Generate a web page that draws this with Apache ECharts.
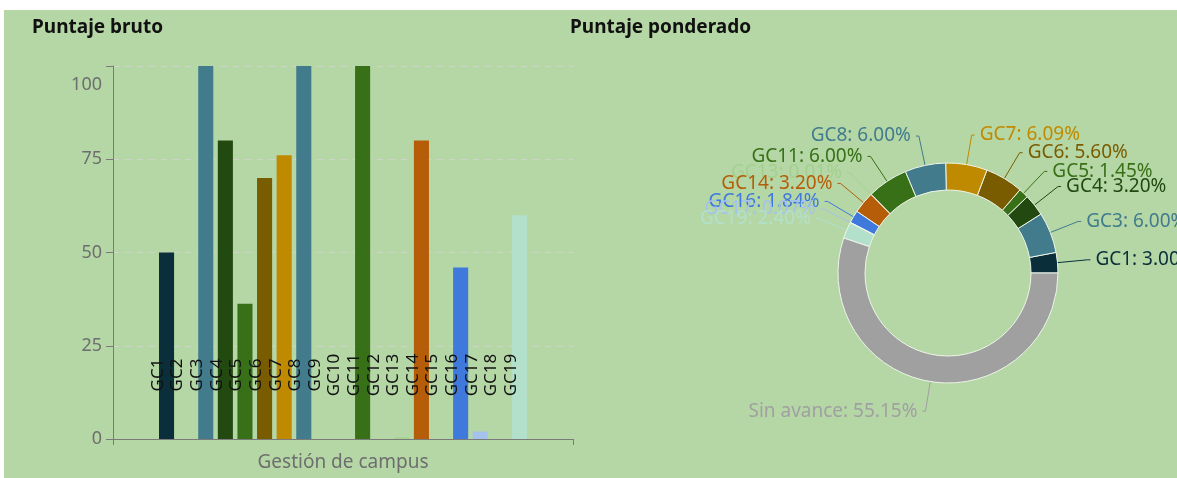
<!DOCTYPE html>
<html>
<head>
<meta charset="utf-8">
<script src="https://cdn.jsdelivr.net/npm/echarts@6/dist/echarts.min.js"></script>
<style>
  html, body { margin: 0; padding: 0; background: #ffffff; }
  #chart {
    position: absolute;
    left: 4px;
    top: 10px;
    width: 1173px;
    height: 468px;
  }
</style>
</head>
<body>
<div id="chart"></div>
<script>
// Puntaje bruto (raw score per item)
const categories = ['Gestión de campus']
const items = ['GC1', 'GC2', 'GC3', 'GC4', 'GC5', 'GC6', 'GC7', 'GC8', 'GC9', 'GC10',
  'GC11', 'GC12', 'GC13', 'GC14', 'GC15', 'GC16', 'GC17', 'GC18', 'GC19']
const rawScores = [50, 0, 100, 80, 36.25, 70, 76.1, 100, 0, 0,
  100, 0, 0.4, 80, 0, 46, 2, 0, 60]
const itemColors = ['#0a2f3a', '#5b8fa8', '#417b8c', '#224a10', '#387018', '#7a5c00', '#c08a00', '#417b8c', '#8a8a8a', '#6a4a8a',
  '#387018', '#d08a30', '#a3d08e', '#b55d08', '#8a6a30', '#3f79dc', '#a5c2ec', '#6aa06a', '#b3e0cb']
const yTicks = [0, 25, 50, 75, 100]

// Puntaje ponderado (weighted, %)
const pieNames = ['GC1', 'GC3', 'GC4', 'GC5', 'GC6', 'GC7', 'GC8', 'GC11', 'GC13', 'GC14', 'GC16', 'GC17', 'GC19', 'Sin avance']
const pieValues = [3.00, 6.00, 3.20, 1.45, 5.60, 6.09, 6.00, 6.00, 0.01, 3.20, 1.84, 0.07, 2.40, 55.15]
const pieColors = ['#0a2f3a', '#417b8c', '#224a10', '#387018', '#7a5c00', '#c08a00', '#417b8c', '#387018', '#a3d08e', '#b55d08', '#3f79dc', '#a5c2ec', '#b3e0cb', '#a0a0a0']

const font = '"Noto Sans", sans-serif'
const myChart = echarts.init(document.getElementById('chart'))

const barSeries = items.map((name, i) => ({
  name: name,
  type: 'bar',
  barGap: '30%',
  barCategoryGap: '20%',
  data: [rawScores[i]],
  itemStyle: { color: itemColors[i] },
  label: {
    show: true,
    position: 'insideBottom',
    distance: 64,
    rotate: 90,
    align: 'center',
    verticalAlign: 'bottom',
    formatter: '{a}',
    color: '#111',
    fontSize: 17,
    fontFamily: font
  }
}))

const option = {
  backgroundColor: '#b5d7a6',
  animation: false,
  title: [
    {
      text: 'Puntaje bruto',
      left: 23, top: 3,
      textStyle: { fontSize: 19, fontWeight: 'bold', color: '#111', fontFamily: font }
    },
    {
      text: 'Puntaje ponderado',
      left: 561, top: 3,
      textStyle: { fontSize: 19, fontWeight: 'bold', color: '#111', fontFamily: font }
    }
  ],
  grid: { left: 109, right: 604, top: 56, bottom: 39 },
  xAxis: {
    type: 'category',
    data: categories,
    name: categories[0],
    nameLocation: 'middle',
    nameGap: 14,
    nameTextStyle: { color: '#6e6e6e', fontSize: 19, fontFamily: font },
    axisLine: { lineStyle: { color: '#7a7a7a' } },
    axisTick: { show: true, length: 6, lineStyle: { color: '#7a7a7a' } },
    axisLabel: { show: false }
  },
  yAxis: {
    type: 'value',
    min: yTicks[0],
    max: yTicks[yTicks.length - 1],
    interval: 25,
    axisLine: { show: true, lineStyle: { color: '#7a7a7a' } },
    axisTick: { show: true, length: 7, lineStyle: { color: '#7a7a7a' } },
    axisLabel: {
      margin: 11,
      color: '#6e6e6e',
      fontSize: 18,
      fontFamily: font,
      formatter: v => (v === 100 ? '{top|100}' : String(v)),
      rich: { top: { padding: [38, 0, 0, 0], color: '#6e6e6e', fontSize: 18, fontFamily: font } }
    },
    splitLine: { lineStyle: { color: '#cfd3cc', type: [6, 6] } }
  },
  series: [
    ...barSeries,
    {
      type: 'pie',
      center: [944, 263],
      radius: [83, 110],
      startAngle: 0,
      clockwise: false,
      avoidLabelOverlap: false,
      data: pieNames.map((n, i) => ({
        name: n,
        value: pieValues[i],
        itemStyle: { color: pieColors[i] },
        label: { color: pieColors[i] },
        labelLine: { lineStyle: { color: pieColors[i] } }
      })),
      itemStyle: { borderColor: '#eef5ea', borderWidth: 1 },
      label: {
        formatter: p => p.name + ': ' + p.value.toFixed(2) + '%',
        fontSize: 19,
        fontFamily: font
      },
      labelLine: { length: 30, length2: 3, lineStyle: { width: 1 } },
      labelLayout: { hideOverlap: false }
    }
  ]
}

myChart.setOption(option)
window.onresize = function () {
  myChart.resize()
}
</script>
</body>
</html>
